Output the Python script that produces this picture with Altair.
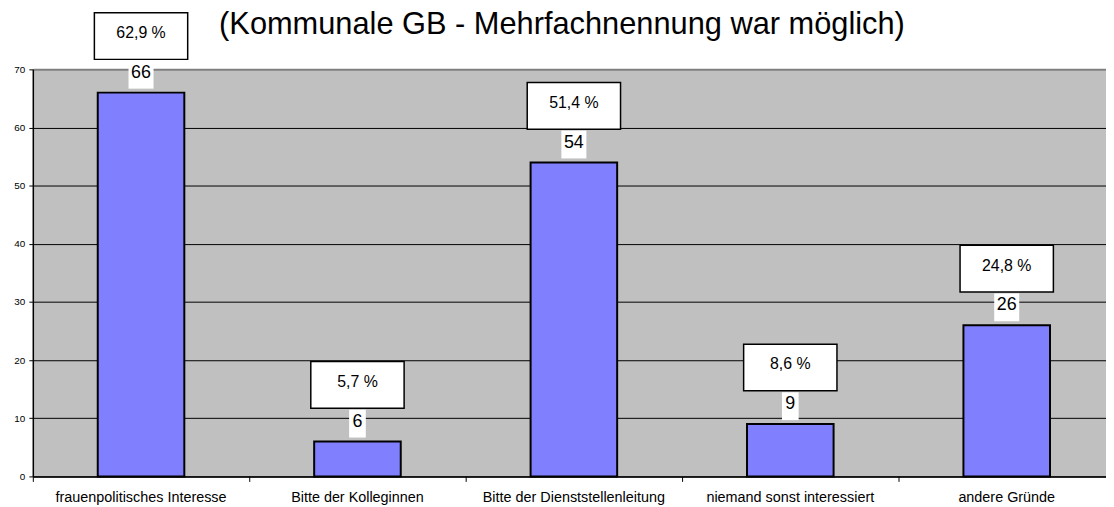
import altair as alt
import pandas as pd

# ---- data ----
categories = [
    "frauenpolitisches Interesse",
    "Bitte der Kolleginnen",
    "Bitte der Dienststellenleitung",
    "niemand sonst interessiert",
    "andere Gründe",
]
counts = [66, 6, 54, 9, 26]
percents = ["62,9 %", "5,7 %", "51,4 %", "8,6 %", "24,8 %"]
y_ticks = [0, 10, 20, 30, 40, 50, 60, 70]
title_text = "(Kommunale GB - Mehrfachnennung war möglich)"

FONT = "Liberation Sans"


def value_box(label):
    # white background box behind the count label (pixel path, symbol size 4 -> scale 1)
    hw = 4.2 + 4.2 * len(label)
    return f"M{-hw},-32 L{hw},-32 L{hw},-4 L{-hw},-4 Z"


PCT_BOX = "M-47,-80.5 L47,-80.5 L47,-33.5 L-47,-33.5 Z"

df = pd.DataFrame({"cat": categories, "count": counts, "pct": percents})
df["label"] = df["count"].astype(str)
df["vbox"] = df["label"].map(value_box)
df["pbox"] = PCT_BOX

title_df = pd.DataFrame({"t": [title_text]})

x_enc = alt.X(
    "cat:N",
    sort=categories,
    scale=alt.Scale(range=[0, 1090], paddingInner=0, paddingOuter=0),
    axis=alt.Axis(
        title=None,
        labelAngle=0,
        labelFont=FONT,
        labelFontSize=14.5,
        labelColor="black",
        labelPadding=9,
        labelLimit=400,
        labelOverlap=False,
        bandPosition=0,
        ticks=True,
        tickColor="black",
        tickSize=5,
        tickWidth=1,
        domainColor="black",
        domainWidth=1.5,
        grid=False,
    ),
)

y_enc = alt.Y(
    "count:Q",
    scale=alt.Scale(domain=[0, 70], nice=False),
    axis=alt.Axis(
        title=None,
        values=y_ticks,
        labelFont=FONT,
        labelFontSize=10,
        labelColor="black",
        labelPadding=4,
        tickColor="black",
        tickSize=4,
        tickWidth=1,
        domainColor="black",
        domainWidth=1.5,
        grid=True,
        gridColor={"condition": {"test": "datum.value === 70", "value": "#808080"}, "value": "black"},
        gridWidth={"condition": {"test": "datum.value === 70", "value": 2}, "value": 1},
        gridOpacity=1,
    ),
)

base = alt.Chart(df).encode(x=x_enc, y=y_enc)

bars = base.mark_bar(
    width=alt.RelativeBandSize(0.4),
    color="#8080FF",
    stroke="black",
    strokeWidth=2,
)

value_bg = base.mark_point(
    filled=True, fill="white", opacity=1, size=4, strokeWidth=0
).encode(shape=alt.Shape("vbox:N", scale=None))

value_text = base.mark_text(
    dy=-20, fontSize=18, font=FONT, color="black", baseline="middle", align="center"
).encode(text="label:N")

pct_bg = base.mark_point(
    filled=True, fill="white", stroke="black", strokeWidth=1.5, opacity=1, size=4
).encode(shape=alt.Shape("pbox:N", scale=None))

pct_text = base.mark_text(
    dy=-60, fontSize=16, font=FONT, color="black", baseline="middle", align="center"
).encode(text="pct:N")

title_mark = alt.Chart(title_df).mark_text(
    fontSize=31, font=FONT, color="black", baseline="alphabetic", align="center"
).encode(x=alt.value(533), y=alt.value(-36), text="t:N")

chart = (
    alt.layer(bars, value_bg, value_text, pct_bg, pct_text, title_mark)
    .properties(
        width=1081,
        height=410,
        autosize=alt.AutoSizeParams(type="none"),
        padding={"left": 25, "top": 60, "right": 0, "bottom": 29},
    )
    .configure(background="white", font=FONT)
    .configure_view(fill="#C0C0C0", stroke=None)
)

chart.save("out.html", embed_options={"renderer": "svg", "actions": False})
